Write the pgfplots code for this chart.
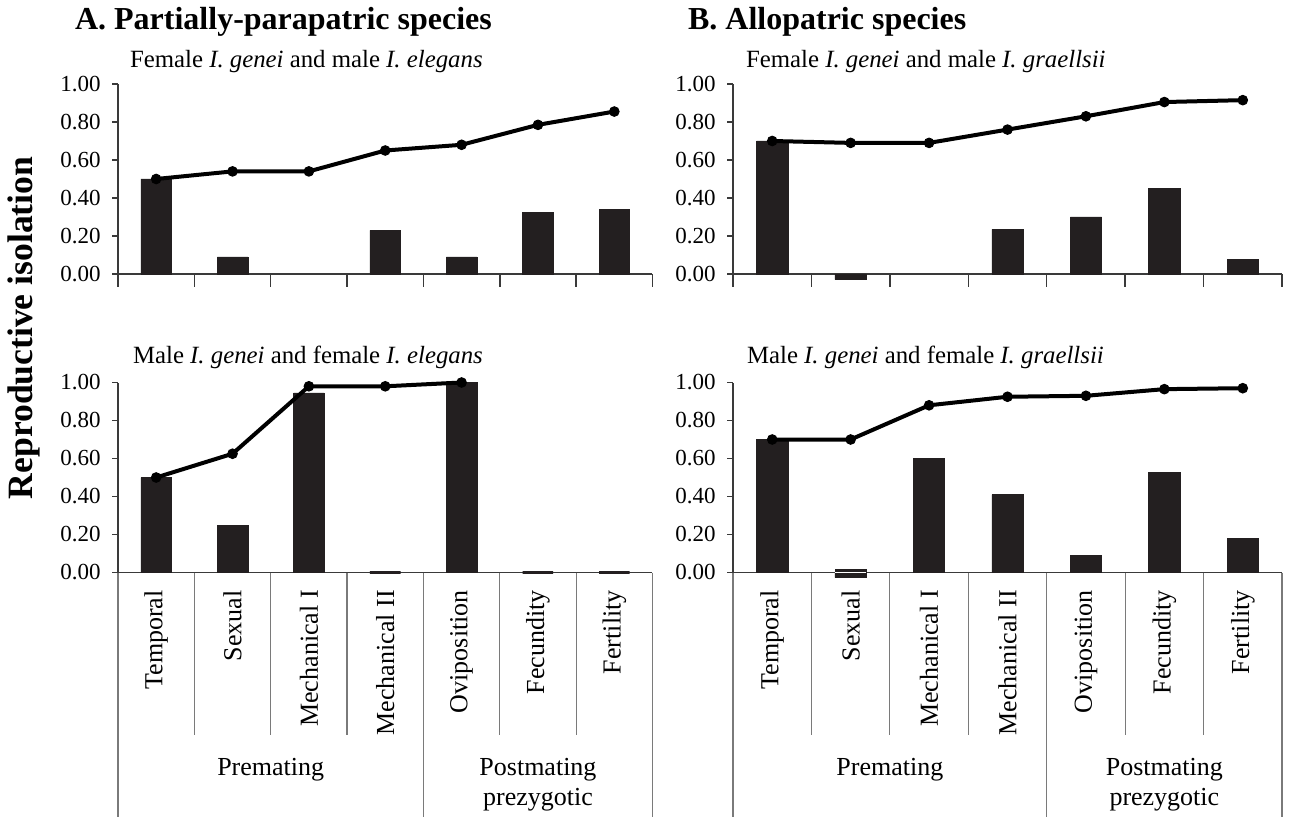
\documentclass[border=0pt]{standalone}
\usepackage{pgfplots}
\pgfplotsset{compat=1.18}
\usepackage{fontspec}
\setmainfont{Liberation Serif}
\definecolor{barcol}{HTML}{231F20}
\definecolor{axcol}{HTML}{3A3A3A}
\definecolor{sepcol}{HTML}{7A7A7A}
\pgfplotsset{
  panel/.style={
    scale only axis, clip=false,
    xmin=-0.5, xmax=6.5, ymin=-0.06, ymax=1,
    height=100.7pt,
    axis lines*=left,
    x axis line style={draw=none},
    y axis line style={draw=axcol, line width=0.75pt},
    ytick={0,0.2,0.4,0.6,0.8,1},
    yticklabel={\pgfmathprintnumber[fixed,fixed zerofill,precision=2,assume math mode=true]{\tick}},
    yticklabel style={font=\fontsize{11.5}{13}\selectfont, xshift=-2.2pt},
    tick align=outside, major tick length=3pt,
    ytick style={draw=axcol, line width=0.75pt},
    xtick style={draw=none},
    anchor=south west,
  },
  top/.style={xtick=\empty},
  bottom/.style={xtick={0,1,2,3,4,5,6},
    xticklabels={Temporal,Sexual,Mechanical I,Mechanical II,Oviposition,Fecundity,Fertility},
    xticklabel style={rotate=90, anchor=east, inner sep=0pt, font=\fontsize{13}{14}\selectfont}},
  bars/.style={ybar, bar width=0.4, fill=barcol, draw=barcol, line width=0.3pt},
  cum/.style={color=black, line width=2pt, mark=*, mark size=2.4pt, mark options={fill=black, line width=0.5pt}},
}
\newcommand{\topseps}{%
  \draw[axcol, line width=0.75pt] (axis cs:-0.5,0) -- (axis cs:6.5,0);
  \draw[axcol, line width=0.75pt] (axis cs:-0.5,0) -- (axis cs:-0.5,-0.068);
  \draw[axcol, line width=0.75pt] (axis cs:0.5,0) -- (axis cs:0.5,-0.068);
  \draw[axcol, line width=0.75pt] (axis cs:1.5,0) -- (axis cs:1.5,-0.068);
  \draw[axcol, line width=0.75pt] (axis cs:2.5,0) -- (axis cs:2.5,-0.068);
  \draw[axcol, line width=0.75pt] (axis cs:3.5,0) -- (axis cs:3.5,-0.068);
  \draw[axcol, line width=0.75pt] (axis cs:4.5,0) -- (axis cs:4.5,-0.068);
  \draw[axcol, line width=0.75pt] (axis cs:5.5,0) -- (axis cs:5.5,-0.068);
  \draw[axcol, line width=0.75pt] (axis cs:6.5,0) -- (axis cs:6.5,-0.068);
}
\newcommand{\bottomseps}{%
  \draw[axcol, line width=0.75pt] (axis cs:-0.5,0) -- (axis cs:6.5,0);
  \draw[sepcol, line width=0.6pt] (axis cs:-0.5,0) -- (axis cs:-0.5,-1.287);
  \draw[sepcol, line width=0.6pt] (axis cs:0.5,0) -- (axis cs:0.5,-0.855);
  \draw[sepcol, line width=0.6pt] (axis cs:1.5,0) -- (axis cs:1.5,-0.855);
  \draw[sepcol, line width=0.6pt] (axis cs:2.5,0) -- (axis cs:2.5,-0.855);
  \draw[sepcol, line width=0.6pt] (axis cs:3.5,0) -- (axis cs:3.5,-1.287);
  \draw[sepcol, line width=0.6pt] (axis cs:4.5,0) -- (axis cs:4.5,-0.855);
  \draw[sepcol, line width=0.6pt] (axis cs:5.5,0) -- (axis cs:5.5,-0.855);
  \draw[sepcol, line width=0.6pt] (axis cs:6.5,0) -- (axis cs:6.5,-1.287);
  \node[font=\fontsize{13}{15}\selectfont] at (axis cs:1.5,-1.039) {Premating};
  \node[font=\fontsize{13}{15}\selectfont, align=center] at (axis cs:5,-1.118) {Postmating\\prezygotic};
}
\begin{document}
\begin{tikzpicture}
\path[use as bounding box] (0,0) rectangle (644.5pt,-408.5pt);

\node[anchor=west, font=\fontsize{16}{18}\selectfont\bfseries] at (34pt,-11pt) {A. Partially-parapatric species};
\node[anchor=west, font=\fontsize{16}{18}\selectfont\bfseries] at (340.5pt,-11pt) {B. Allopatric species};
\node[rotate=90, font=\fontsize{17.8}{19}\selectfont\bfseries] at (12pt,-164pt) {Reproductive isolation};

\node[anchor=west, font=\fontsize{12.4}{14}\selectfont] at (61.5pt,-31pt) {Female \textit{I. genei} and male \textit{I. elegans}};
\node[anchor=west, font=\fontsize{12.4}{14}\selectfont] at (369.5pt,-31pt) {Female \textit{I. genei} and male \textit{I. graellsii}};
\node[anchor=west, font=\fontsize{12.4}{14}\selectfont] at (63pt,-178.5pt) {Male \textit{I. genei} and female \textit{I. elegans}};
\node[anchor=west, font=\fontsize{12.4}{14}\selectfont] at (370pt,-178.5pt) {Male \textit{I. genei} and female \textit{I. graellsii}};

% Top-left
\begin{axis}[panel, top, width=267.25pt, at={(59pt,-142.7pt)}]
\topseps
\addplot[bars] coordinates {(0,0.50)(1,0.09)(3,0.23)(4,0.09)(5,0.325)(6,0.34)};
\addplot[cum] coordinates {(0,0.50)(1,0.54)(2,0.54)(3,0.65)(4,0.68)(5,0.785)(6,0.855)};
\end{axis}

% Top-right
\begin{axis}[panel, top, width=274.5pt, at={(366.5pt,-142.7pt)}]
\topseps
\addplot[bars] coordinates {(0,0.70)(1,-0.03)(3,0.235)(4,0.30)(5,0.45)(6,0.075)};
\addplot[cum] coordinates {(0,0.70)(1,0.69)(2,0.69)(3,0.76)(4,0.83)(5,0.905)(6,0.915)};
\end{axis}

% Bottom-left
\begin{axis}[panel, bottom, width=267.25pt, at={(59pt,-291.95pt)}]
\bottomseps
\addplot[bars] coordinates {(0,0.50)(1,0.25)(2,0.945)(4,1.00)};
\addplot[bars, line width=1.3pt] coordinates {(3,0)(5,0)(6,0)};
\addplot[cum] coordinates {(0,0.50)(1,0.625)(2,0.98)(3,0.98)(4,1.00)};
\end{axis}

% Bottom-right
\begin{axis}[panel, bottom, width=274.5pt, at={(366.5pt,-291.95pt)}]
\bottomseps
\addplot[bars] coordinates {(0,0.70)(1,-0.027)(2,0.60)(3,0.41)(4,0.09)(5,0.525)(6,0.18)};
\addplot[bars] coordinates {(1,0.018)};
\draw[white, line width=0.6pt] (axis cs:0.8,0) -- (axis cs:1.2,0);
\addplot[cum] coordinates {(0,0.70)(1,0.70)(2,0.88)(3,0.925)(4,0.93)(5,0.965)(6,0.97)};
\end{axis}
\end{tikzpicture}
\end{document}
